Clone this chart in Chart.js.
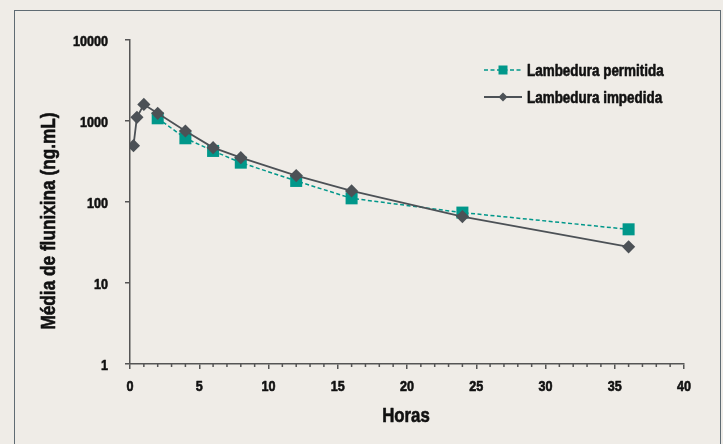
<!DOCTYPE html>
<html><head><meta charset="utf-8">
<script src="https://cdn.jsdelivr.net/npm/chart.js@4/dist/chart.umd.min.js"></script>
<style>
html,body{margin:0;padding:0;background:#efece7;}
#wrap{position:relative;width:723px;height:444px;overflow:hidden;background:#efece7;}
#frame{position:absolute;left:14px;top:10px;width:705px;height:470px;border:1.5px solid #5f6b73;border-bottom:none;}
canvas{position:absolute;left:0;top:0;}
</style></head><body>
<div id="wrap"><div id="frame"></div><canvas id="c" width="723" height="444"></canvas></div>
<script>
// ---- data ----
const hoursPermitida = [2, 4, 6, 8, 12, 16, 24, 36];
const valuesPermitida = [1080, 612, 427, 306, 182, 111, 74, 46];
const hoursImpedida = [0.25, 0.5, 1, 2, 4, 6, 8, 12, 16, 24, 36];
const valuesImpedida = [496, 1110, 1600, 1245, 753, 469, 353, 212, 137, 66, 28];
const seriesNames = ['Lambedura permitida', 'Lambedura impedida'];
const yTickValues = [1, 10, 100, 1000, 10000];
const xTickValues = [0, 5, 10, 15, 20, 25, 30, 35, 40];
const xTitle = 'Horas';
const yTitle = 'Média de flunixina (ng.mL)';

const FONT = "'Liberation Sans', Arial, sans-serif";
const NARROW = 0.84;
const TEAL = '#00978a';
const GREY = '#4c5156';
const AXIS = '#555555';
const INK = '#111111';

const toPts = (xs, ys) => xs.map((x, i) => ({x: x, y: ys[i]}));

function narrowText(ctx, text, x, y, align, size, rot) {
  ctx.save();
  ctx.translate(x, y);
  if (rot) ctx.rotate(rot);
  ctx.scale(NARROW, 1);
  ctx.font = 'bold ' + size + 'px ' + FONT;
  ctx.fillStyle = INK;
  ctx.strokeStyle = INK;
  ctx.lineWidth = 0.6;
  ctx.lineJoin = 'round';
  ctx.textAlign = align;
  ctx.textBaseline = 'alphabetic';
  ctx.fillText(text, 0, 0);
  ctx.strokeText(text, 0, 0);
  ctx.restore();
}

const decor = {
  id: 'decor',
  afterDraw(chart) {
    const ctx = chart.ctx;
    const xs = chart.scales.x, ys = chart.scales.y;
    ctx.save();
    // minor x ticks
    ctx.strokeStyle = AXIS; ctx.lineWidth = 1.5;
    for (let v = xs.min; v <= xs.max; v += 1) {
      if (xTickValues.includes(v)) continue;
      const px = xs.getPixelForValue(v);
      ctx.beginPath(); ctx.moveTo(px, ys.bottom); ctx.lineTo(px, ys.bottom + 3); ctx.stroke();
    }
    // tick labels
    xTickValues.forEach(v => narrowText(ctx, String(v), xs.getPixelForValue(v), ys.bottom + 26.5, 'center', 15));
    yTickValues.forEach(v => narrowText(ctx, String(v), ys.left + 108, ys.getPixelForValue(v) + 5.5, 'right', 15));
    // axis titles
    narrowText(ctx, xTitle, (xs.left + xs.right) / 2 - 1, 421.5, 'center', 20);
    narrowText(ctx, yTitle, 55, 221, 'center', 20.5, -Math.PI / 2);
    // legend
    const ds = chart.data.datasets;
    const items = [{d: ds[0], y: 70, shape: 'rect'}, {d: ds[1], y: 97, shape: 'diamond'}];
    items.forEach(it => {
      ctx.strokeStyle = it.d.borderColor;
      ctx.lineWidth = it.d.borderWidth;
      ctx.setLineDash(it.d.borderDash || []);
      ctx.beginPath(); ctx.moveTo(484, it.y); ctx.lineTo(522, it.y); ctx.stroke();
      ctx.setLineDash([]);
      ctx.fillStyle = it.d.pointBackgroundColor;
      const cx = 503;
      if (it.shape === 'rect') {
        ctx.fillRect(cx - 4.5, it.y - 4.5, 9, 9);
      } else {
        ctx.beginPath();
        ctx.moveTo(cx - 4.5, it.y); ctx.lineTo(cx, it.y - 4.5);
        ctx.lineTo(cx + 4.5, it.y); ctx.lineTo(cx, it.y + 4.5);
        ctx.closePath(); ctx.fill();
      }
      narrowText(ctx, it.d.label, 527, it.y + 6.3, 'left', 16);
    });
    ctx.restore();
  }
};

new Chart(document.getElementById('c'), {
  type: 'line',
  data: {
    datasets: [
      {
        label: seriesNames[0],
        data: toPts(hoursPermitida, valuesPermitida),
        borderColor: TEAL, borderWidth: 1.5, borderDash: [4, 2.5],
        pointStyle: 'rect', pointRadius: 8.5, pointHoverRadius: 8.5,
        pointBackgroundColor: TEAL, pointBorderWidth: 0,
        tension: 0, fill: false, order: 1
      },
      {
        label: seriesNames[1],
        data: toPts(hoursImpedida, valuesImpedida),
        borderColor: GREY, borderWidth: 1.8,
        pointStyle: 'rectRot', pointRadius: 6.6, pointHoverRadius: 6.6,
        pointBackgroundColor: GREY, pointBorderWidth: 0,
        tension: 0, fill: false, order: 0
      }
    ]
  },
  options: {
    responsive: false, animation: false, devicePixelRatio: 1,
    layout: {padding: {left: 0, top: 40, right: 39, bottom: 0}},
    plugins: {legend: {display: false}, tooltip: {enabled: false}},
    scales: {
      x: {
        type: 'linear', min: 0, max: 40,
        afterFit: s => { s.height = 80; },
        afterBuildTicks: s => { s.ticks = xTickValues.map(v => ({value: v})); },
        grid: {drawOnChartArea: false, drawTicks: true, tickLength: 5, color: AXIS, lineWidth: 1.5},
        border: {color: AXIS, width: 1.5},
        ticks: {color: 'rgba(0,0,0,0)', font: {size: 15}, padding: 8, maxRotation: 0, autoSkip: false, callback: v => String(v)}
      },
      y: {
        type: 'logarithmic', min: 1, max: 10000,
        afterFit: s => { s.width = 130; },
        afterBuildTicks: s => { s.ticks = yTickValues.map(v => ({value: v, major: true})); },
        grid: {drawOnChartArea: false, drawTicks: true, tickLength: 5, color: AXIS, lineWidth: 1.5},
        border: {color: AXIS, width: 1.5},
        ticks: {color: 'rgba(0,0,0,0)', font: {size: 15}, padding: 17, autoSkip: false, callback: v => String(v)}
      }
    }
  },
  plugins: [decor]
});
</script>
</body></html>
